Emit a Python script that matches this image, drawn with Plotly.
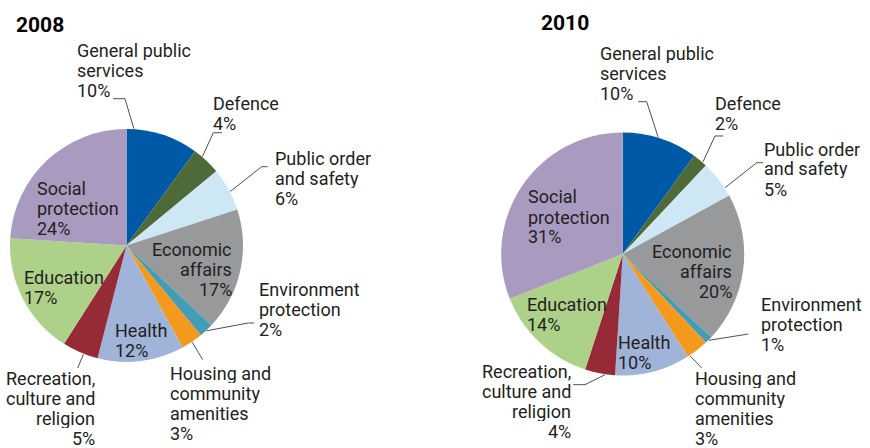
import math
import plotly.graph_objects as go

# Government expenditure by function, share of total (%)
categories = [
    "General public<br>services",
    "Defence",
    "Public order<br>and safety",
    "Economic<br>affairs",
    "Environment<br>protection",
    "Housing and<br>community<br>amenities",
    "Health",
    "Recreation,<br>culture and<br>religion",
    "Education",
    "Social<br>protection",
]
values_2008 = [10, 4, 6, 17, 2, 3, 12, 5, 17, 24]
values_2010 = [10, 2, 5, 20, 1, 3, 10, 4, 14, 31]
years = ["2008", "2010"]

colors = ["#0059a6", "#4f6a39", "#cde7f5", "#98999b", "#449db6",
          "#f39a1e", "#a0b3d8", "#962a36", "#aed18a", "#a99bc0"]

W, H = 870, 448
FONT = "Roboto, Liberation Sans, sans-serif"
TXT = "#231f20"
LINE_GAP = 20.0
LABEL_SIZE = 18


def px(x):
    return x / W


def py(y):
    return 1 - y / H


# pie geometry in pixels: centre x, centre y, radius
geom = {
    "2008": (126.5, 245.5, 116.5),
    "2010": (622.7, 254.0, 121.5),
}
title_pos = {"2008": (14, 24.5), "2010": (538.5, 23.5)}

# label placement per slice: (x, y of first line, anchor, leader elbow points, where on slice)
place = {
    "2008": [
        (76, 50.5, "left", [(113, 98.7), (125, 98.7)], 0.10),
        (212, 103.3, "left", [(222, 132.7), (213.3, 132.7)], 0.31),
        (274.3, 158.3, "left", [(267.7, 166.7), (261.7, 166.7)], 0.56),
        (233.3, 249.3, "right", None, None),
        (257.7, 289.5, "left", [(254, 323), (248.3, 323)], 0.5),
        (169, 373, "left", [(202.7, 359.7)], 0.5),
        (114.3, 330.7, "left", None, None),
        (96, 378.5, "right", [(77.7, 368)], 0.4),
        (23.3, 277.7, "left", None, None),
        (36, 188.7, "left", None, None),
    ],
    "2010": [
        (599, 53.8, "left", [(638.3, 101.7), (646.7, 101.7)], 0.47),
        (714.3, 103.3, "left", [(723.3, 136), (715, 136)], 0.71),
        (763.3, 149, "left", [(763.3, 162.7), (756.7, 162.7)], 0.77),
        (733.3, 251.8, "right", None, None),
        (760, 304.7, "left", [(748.3, 334)], 0.5),
        (694.3, 378, "left", [(701.7, 368)], 0.9),
        (616.7, 342.3, "left", None, None),
        (571.7, 371, "right", [(573.3, 384.7), (585, 384.7)], 0.33),
        (525.7, 304.7, "left", None, None),
        (526.7, 197, "left", None, None),
    ],
}

fig = go.Figure()
annotations = []
shapes = []

for year, vals in zip(years, [values_2008, values_2010]):
    cx, cy, r = geom[year]
    fig.add_trace(go.Pie(
        labels=[c.replace("<br>", " ") for c in categories],
        values=vals,
        sort=False,
        direction="clockwise",
        rotation=0,
        textinfo="none",
        hoverinfo="label+percent",
        marker=dict(colors=colors, line=dict(width=0)),
        domain=dict(x=[px(cx - r), px(cx + r)], y=[py(cy + r), py(cy - r)]),
        showlegend=False,
    ))

    tx, ty = title_pos[year]
    annotations.append(dict(
        x=px(tx), y=py(ty), xref="paper", yref="paper", text="<b>%s</b>" % year,
        showarrow=False, xanchor="left", yanchor="middle",
        font=dict(family=FONT, size=21, color="#000000"),
    ))

    total = float(sum(vals))
    cum = 0.0
    for cat, v, (lx, ly, anchor, elbow, frac) in zip(categories, vals, place[year]):
        lines = cat.split("<br>") + ["%d%%" % v]
        for i, line in enumerate(lines):
            annotations.append(dict(
                x=px(lx), y=py(ly + i * LINE_GAP), xref="paper", yref="paper",
                text=line, showarrow=False, xanchor=anchor, yanchor="middle",
                height=19, borderpad=0,
                font=dict(family=FONT, size=LABEL_SIZE, color=TXT),
            ))
        if elbow:
            ang = math.radians((cum + frac * v) / total * 360.0)
            ex = cx + (r + 0.5) * math.sin(ang)
            ey = cy - (r + 0.5) * math.cos(ang)
            pts = list(elbow) + [(ex, ey)]
            path = "M %f,%f " % (px(pts[0][0]), py(pts[0][1]))
            path += " ".join("L %f,%f" % (px(a), py(b)) for a, b in pts[1:])
            shapes.append(dict(type="path", xref="paper", yref="paper", path=path,
                               line=dict(color="#505050", width=1)))
        cum += v

fig.update_layout(
    width=W, height=H,
    margin=dict(l=0, r=0, t=0, b=0),
    paper_bgcolor="white",
    plot_bgcolor="white",
    annotations=annotations,
    shapes=shapes,
    font=dict(family=FONT, color=TXT),
)

fig.write_html("out.html")
